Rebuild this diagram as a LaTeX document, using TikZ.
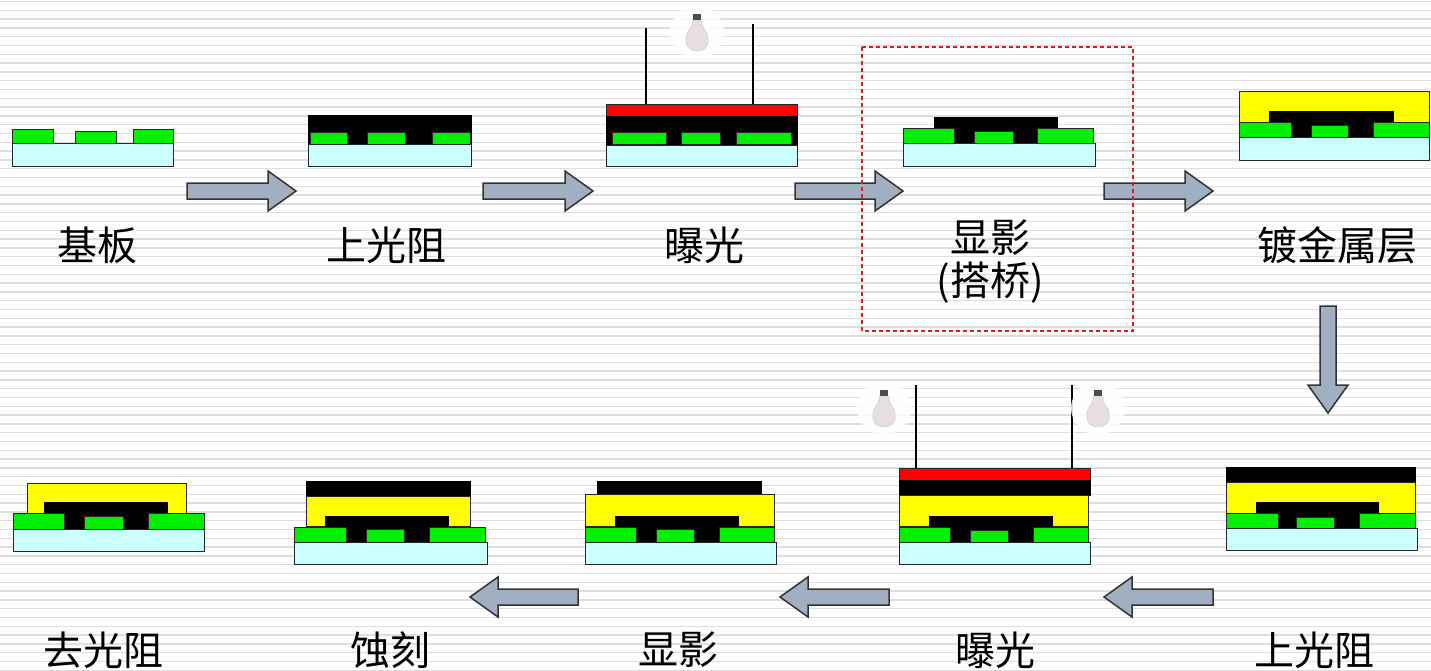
\documentclass[tikz,border=0pt]{standalone}
\usepackage{fontspec}
\newfontfamily\cjk{Noto Sans CJK SC}
\definecolor{subc}{HTML}{CCFFFF}
\definecolor{padc}{HTML}{00F000}
\definecolor{metalc}{HTML}{FFFF00}
\definecolor{maskc}{HTML}{FF0000}
\definecolor{arrowc}{HTML}{A0B0C2}
\definecolor{stripec}{HTML}{DEDEDE}
\definecolor{boxc}{HTML}{D42020}
\definecolor{glassc}{HTML}{E8DEE2}
\newcommand\rightblock[3]{%
  \path[blockarrow] (#1,#3-8) -- (#2-28,#3-8) -- (#2-28,#3-20) -- (#2,#3)
    -- (#2-28,#3+20) -- (#2-28,#3+8) -- (#1,#3+8) -- cycle;}
\newcommand\leftblock[3]{%
  \path[blockarrow] (#2,#3-8) -- (#1+28,#3-8) -- (#1+28,#3-20) -- (#1,#3)
    -- (#1+28,#3+20) -- (#1+28,#3+8) -- (#2,#3+8) -- cycle;}
\newcommand\downblock[3]{%
  \path[blockarrow] (#1-8,#2) -- (#1-8,#3-28) -- (#1-20,#3-28) -- (#1,#3)
    -- (#1+20,#3-28) -- (#1+8,#3-28) -- (#1+8,#2) -- cycle;}
% light bulb centred on its glass
\newcommand\lamp[2]{%
  \begin{scope}[shift={(#1,#2)}]
    \fill[white,opacity=0.85] (0,1) circle (27);
    \begin{scope}[scale=1.25]
    \path[glass] (-4,-9) -- (-4,-6) .. controls (-4,-2) and (-9,0) .. (-9,7)
      .. controls (-9,13) and (-5,16) .. (0,16) .. controls (5,16) and (9,13) .. (9,7)
      .. controls (9,0) and (4,-2) .. (4,-6) -- (4,-9) -- cycle;
    \fill[black!70] (-3.5,-14) rectangle (3.5,-8.5);
    \end{scope}
  \end{scope}}
\begin{document}
\begin{tikzpicture}[x=1pt,y=-1pt,
  sub/.style={fill=subc,draw=black!85,line width=1pt},
  pad/.style={fill=padc,draw=black!85,line width=0.8pt},
  resist/.style={fill=black,draw=black,line width=0.8pt},
  metal/.style={fill=metalc,draw=black!85,line width=0.8pt},
  maskl/.style={fill=maskc,draw=black!85,line width=0.8pt},
  wire/.style={draw=black,line width=1.5pt},
  blockarrow/.style={fill=arrowc,draw=black!80,line width=1.5pt,line join=miter},
  glass/.style={fill=glassc,draw=black!20,line width=0.5pt},
  stripe/.style={draw=stripec,line width=1.5pt},
  lbl/.style={font=\cjk\fontsize{40}{46}\selectfont,inner sep=0pt,align=center}]
\useasboundingbox (0,0) rectangle (1431,670);
\fill[white] (0,0) rectangle (1431,670);
% striped background
\foreach \k in {0,...,76} \draw[stripe] (0,1.5+\k*8.8) -- (1431,1.5+\k*8.8);

% --- top row ---
% substrate
\path[sub] (12,143) rectangle (173,166);
\path[pad] (12,129) rectangle (53,143) (75,131) rectangle (116,143) (133,129) rectangle (173,143);

% resist coated
\path[resist] (308,115) rectangle (471,144);
\path[pad] (310,132) rectangle (347,144) (367,132) rectangle (405,144) (432,132) rectangle (470,144);
\path[sub] (308,144) rectangle (471,166);

% exposure
\draw[wire] (646,28) -- (646,104);
\draw[wire] (753,24) -- (753,104);
\lamp{697}{31}
\path[maskl] (606,104) rectangle (797,116);
\path[resist] (606,116) rectangle (797,145);
\path[pad] (612,132) rectangle (666,144) (681,132) rectangle (720,144) (736,132) rectangle (791,144);
\path[sub] (606,145) rectangle (797,166);

% developed (bridge)
\path[resist] (934,117) rectangle (1057,143);
\path[pad] (903,128) rectangle (954,143) (974,131) rectangle (1013,143) (1037,128) rectangle (1093,143);
\path[sub] (903,143) rectangle (1095,166);

% metal layer
\path[metal] (1239,91) rectangle (1429,122);
\path[resist] (1269,111) rectangle (1393,137);
\path[pad] (1239,122) rectangle (1291,137) (1311,125) rectangle (1348,137) (1373,122) rectangle (1429,137);
\path[sub] (1239,137) rectangle (1429,160);

% --- bottom row ---
% second resist
\path[resist] (1226,467) rectangle (1415,482);
\path[metal] (1226,482) rectangle (1415,513);
\path[resist] (1256,502) rectangle (1378,528);
\path[pad] (1226,513) rectangle (1278,528) (1296,517) rectangle (1334,528) (1359,513) rectangle (1415,528);
\path[sub] (1226,528) rectangle (1417,550);

% second exposure
\draw[wire] (916,385) -- (916,468);
\draw[wire] (1072,385) -- (1072,468);
\lamp{884}{407}
\lamp{1098}{407}
\path[maskl] (899,468) rectangle (1090,480);
\path[resist] (899,480) rectangle (1090,495);
\path[metal] (899,495) rectangle (1088,526);
\path[resist] (929,516) rectangle (1052,542);
\path[pad] (899,527) rectangle (950,542) (970,530) rectangle (1008,542) (1033,527) rectangle (1088,542);
\path[sub] (899,542) rectangle (1090,564);

% second develop
\path[resist] (597,481) rectangle (761,494);
\path[metal] (585,494) rectangle (774,526);
\path[resist] (615,516) rectangle (738,542);
\path[pad] (585,527) rectangle (636,542) (656,529) rectangle (694,542) (719,527) rectangle (774,542);
\path[sub] (585,542) rectangle (776,564);

% etch
\path[resist] (306,481) rectangle (470,496);
\path[metal] (306,496) rectangle (470,526);
\path[resist] (325,516) rectangle (448,542);
\path[pad] (294,527) rectangle (346,542) (366,529) rectangle (404,542) (429,527) rectangle (485,542);
\path[sub] (294,542) rectangle (487,564);

% strip resist
\path[metal] (27,483) rectangle (186,513);
\path[resist] (44,502) rectangle (167,529);
\path[pad] (13,513) rectangle (64,529) (84,516) rectangle (123,529) (148,513) rectangle (204,529);
\path[sub] (13,529) rectangle (204,551);

% --- process arrows ---
\rightblock{187}{296}{191}
\rightblock{483}{593}{191}
\rightblock{795}{903}{191}
\rightblock{1104}{1213}{191}
\downblock{1328}{306}{413}
\leftblock{1104}{1213}{597}
\leftblock{780}{889}{597}
\leftblock{470}{578}{597}

% --- labels ---
\node[lbl] (l1) at (97,245) {基板};
\node[lbl] (l2) at (386,245) {上光阻};
\node[lbl] (l3) at (704,245) {曝光};
\node[lbl] (l4) at (990,238) {显影};
\node[lbl] (l4b) at (990,283) {(搭桥)};
\node[lbl] (l5) at (1337,245) {镀金属层};
\node[lbl] (l6) at (1314,650) {上光阻};
\node[lbl] (l7) at (995,650) {曝光};
\node[lbl] (l8) at (678,650) {显影};
\node[lbl] (l9) at (390,650) {蚀刻};
\node[lbl] (l10) at (103,650) {去光阻};

% highlight frame
\draw[boxc,line width=1.3pt,dash pattern=on 4pt off 3pt] (862,47) rectangle (1133,331);
\end{tikzpicture}
\end{document}
